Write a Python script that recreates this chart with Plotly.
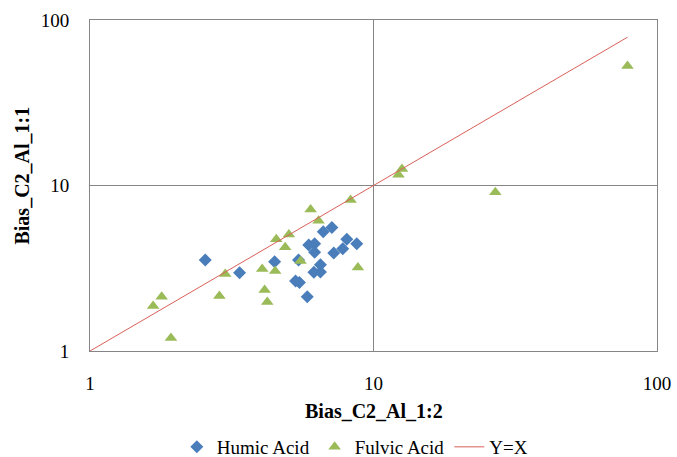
import plotly.graph_objects as go

humic_x = [2.55, 3.37, 4.48, 5.44, 5.31, 5.48, 5.84, 5.91, 6.2, 6.2, 6.65, 7.13, 8.05, 8.73, 7.79, 7.24, 6.5, 6.16, 6.5]
humic_y = [3.55, 2.97, 3.46, 3.55, 2.65, 2.59, 2.13, 4.37, 4.45, 3.95, 5.26, 5.58, 4.73, 4.45, 4.15, 3.91, 3.32, 2.99, 3.0]

fulvic_x = [1.67, 1.79, 1.93, 2.86, 3.0, 4.05, 4.13, 4.22, 4.5, 4.54, 4.88, 5.03, 5.53, 6.0, 6.4, 8.3, 8.81, 12.25, 12.6, 26.9, 78.7]
fulvic_y = [1.87, 2.13, 1.2, 2.15, 2.92, 3.13, 2.34, 1.98, 3.04, 4.73, 4.23, 5.05, 3.5, 7.15, 6.13, 8.17, 3.2, 11.6, 12.58, 9.1, 52.7]

line_x = [1, 78.7]
line_y = [1, 78.7]

x_ticks = [1, 10, 100]
y_ticks = [1, 10, 100]

font = "Liberation Serif, Times New Roman, serif"

fig = go.Figure()
fig.add_trace(go.Scatter(x=humic_x, y=humic_y, mode="markers", name="Humic Acid",
                         marker=dict(symbol="diamond", size=10, color="#4a7ebb")))
fig.add_trace(go.Scatter(x=fulvic_x, y=fulvic_y, mode="markers", name="Fulvic Acid",
                         marker=dict(symbol="triangle-up", size=11, color="#9bbb59")))
fig.add_trace(go.Scatter(x=line_x, y=line_y, mode="lines", name="Y=X",
                         line=dict(color="#d9605a", width=1)))

fig.update_layout(
    width=677, height=457,
    margin=dict(l=90, r=20, t=20, b=106, autoexpand=False),
    paper_bgcolor="white", plot_bgcolor="white",
    font=dict(family=font, size=19, color="black"),
    showlegend=True,
    legend=dict(orientation="h", x=0.467, xanchor="center", y=-0.29, yanchor="middle",
                font=dict(family=font, size=19, color="black"), itemwidth=30,
                tracegroupgap=0),
    xaxis=dict(type="log", range=[0, 2], tickvals=x_ticks, ticktext=[str(v) for v in x_ticks],
               showgrid=True, gridcolor="#868686", gridwidth=1,
               showline=True, linecolor="#868686", mirror=True, zeroline=False,
               ticks="", ticklabelstandoff=15, tickfont=dict(size=19)),
    yaxis=dict(type="log", range=[0, 2], tickvals=y_ticks, ticktext=[str(v) for v in y_ticks],
               showgrid=True, gridcolor="#868686", gridwidth=1,
               showline=True, linecolor="#868686", mirror=True, zeroline=False,
               ticks="", ticklabelstandoff=16, tickfont=dict(size=19)),
    annotations=[
        dict(text="<b>Bias_C2_Al_1:2</b>", x=0.5, xref="paper", y=-0.181, yref="paper",
             yanchor="middle", showarrow=False, font=dict(family=font, size=20)),
        dict(text="<b>Bias_C2_Al_1:1</b>", x=-0.12, xref="paper", y=0.53, yref="paper",
             xanchor="center", yanchor="middle", textangle=-90, showarrow=False,
             font=dict(family=font, size=20)),
    ],
)

fig.write_html("out.html")
